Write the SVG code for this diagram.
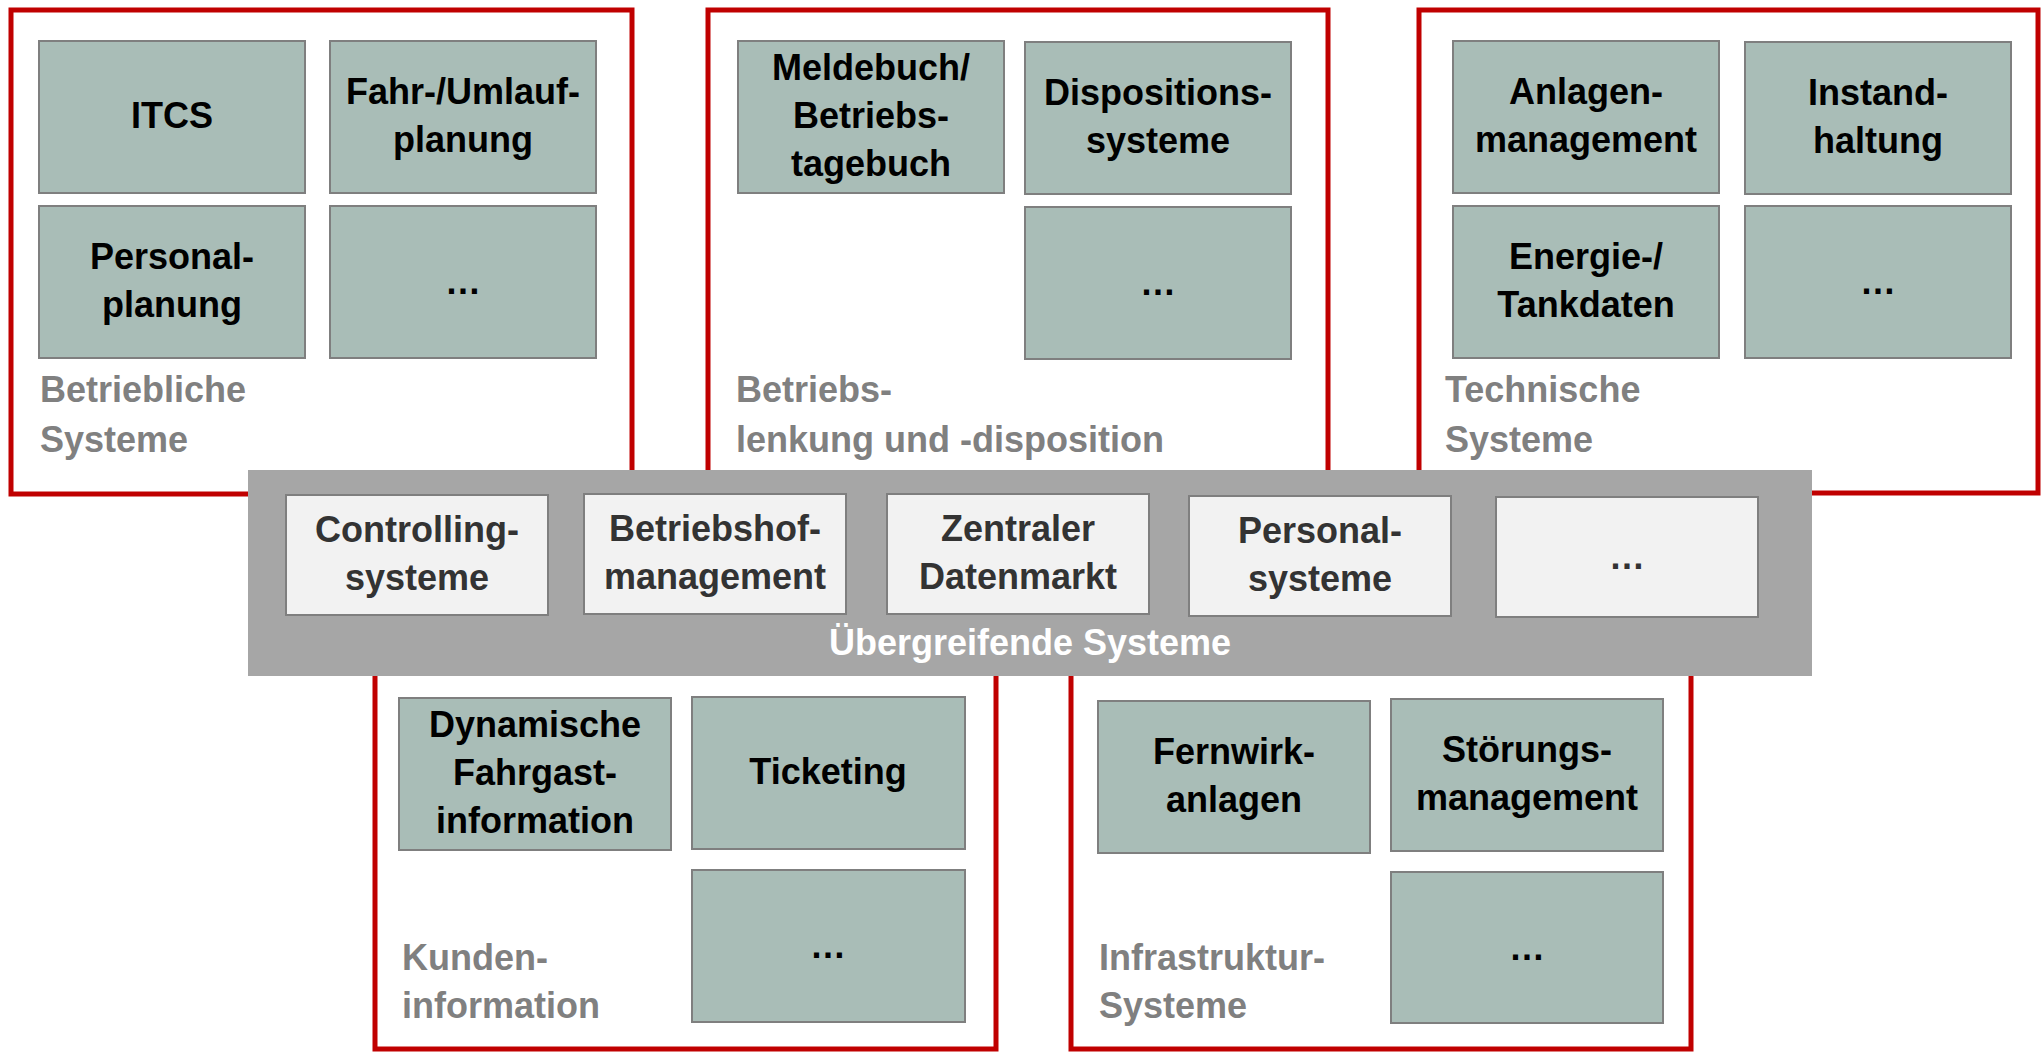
<svg xmlns="http://www.w3.org/2000/svg" width="2044" height="1052" viewBox="0 0 2044 1052">
<style>
.frame{fill:#FFFFFF;stroke:#C00000;stroke-width:5}
.box{fill:#A9BDB7;stroke:#7F7F7F;stroke-width:2}
.bbox{fill:#F2F2F2;stroke:#7F7F7F;stroke-width:2}
.band{fill:#A6A6A6}
text{font-family:"Liberation Sans",Arial,sans-serif;font-weight:bold;font-size:36px}
.t{fill:#000000;text-anchor:middle}
.bt{fill:#333333;text-anchor:middle}
.lbl{fill:#808080}
.bl{fill:#FFFFFF;text-anchor:middle}
</style>
<rect width="2044" height="1052" fill="#FFFFFF"/>
<g id="connectors"></g>

<g id="frame-betrieblich">
<rect class="frame" x="11" y="10" width="621" height="484"/>
<text class="lbl" x="40" y="402">Betriebliche</text>
<text class="lbl" x="40" y="452">Systeme</text>
</g>
<g id="frame-lenkung">
<rect class="frame" x="708" y="10" width="620" height="484"/>
<text class="lbl" x="736" y="402">Betriebs-</text>
<text class="lbl" x="736" y="452">lenkung und -disposition</text>
</g>
<g id="frame-technisch">
<rect class="frame" x="1419" y="10" width="619" height="483"/>
<text class="lbl" x="1445" y="402">Technische</text>
<text class="lbl" x="1445" y="452">Systeme</text>
</g>
<g id="frame-kunden">
<rect class="frame" x="375" y="650" width="621" height="399"/>
<text class="lbl" x="402" y="970">Kunden-</text>
<text class="lbl" x="402" y="1018">information</text>
</g>
<g id="frame-infra">
<rect class="frame" x="1071" y="650" width="620" height="399"/>
<text class="lbl" x="1099" y="970">Infrastruktur-</text>
<text class="lbl" x="1099" y="1018">Systeme</text>
</g>

<g id="itcs"><rect class="box" x="39" y="41" width="266" height="152"/><text class="t" x="172" y="128">ITCS</text></g>
<g id="fahr"><rect class="box" x="330" y="41" width="266" height="152"/><text class="t" x="463" y="104">Fahr-/Umlauf-</text><text class="t" x="463" y="152">planung</text></g>
<g id="personalplanung"><rect class="box" x="39" y="206" width="266" height="152"/><text class="t" x="172" y="269">Personal-</text><text class="t" x="172" y="317">planung</text></g>
<g id="more1"><rect class="box" x="330" y="206" width="266" height="152"/><text class="t" x="463" y="294">…</text></g>

<g id="meldebuch"><rect class="box" x="738" y="41" width="266" height="152"/><text class="t" x="871" y="80">Meldebuch/</text><text class="t" x="871" y="128">Betriebs-</text><text class="t" x="871" y="176">tagebuch</text></g>
<g id="disposition"><rect class="box" x="1025" y="42" width="266" height="152"/><text class="t" x="1158" y="105">Dispositions-</text><text class="t" x="1158" y="153">systeme</text></g>
<g id="more2"><rect class="box" x="1025" y="207" width="266" height="152"/><text class="t" x="1158" y="295">…</text></g>

<g id="anlagen"><rect class="box" x="1453" y="41" width="266" height="152"/><text class="t" x="1586" y="104">Anlagen-</text><text class="t" x="1586" y="152">management</text></g>
<g id="instand"><rect class="box" x="1745" y="42" width="266" height="152"/><text class="t" x="1878" y="105">Instand-</text><text class="t" x="1878" y="153">haltung</text></g>
<g id="energie"><rect class="box" x="1453" y="206" width="266" height="152"/><text class="t" x="1586" y="269">Energie-/</text><text class="t" x="1586" y="317">Tankdaten</text></g>
<g id="more3"><rect class="box" x="1745" y="206" width="266" height="152"/><text class="t" x="1878" y="294">…</text></g>

<g id="dfi"><rect class="box" x="399" y="698" width="272" height="152"/><text class="t" x="535" y="737">Dynamische</text><text class="t" x="535" y="785">Fahrgast-</text><text class="t" x="535" y="833">information</text></g>
<g id="ticketing"><rect class="box" x="692" y="697" width="273" height="152"/><text class="t" x="828" y="784">Ticketing</text></g>
<g id="more4"><rect class="box" x="692" y="870" width="273" height="152"/><text class="t" x="828" y="958">…</text></g>

<g id="fernwirk"><rect class="box" x="1098" y="701" width="272" height="152"/><text class="t" x="1234" y="764">Fernwirk-</text><text class="t" x="1234" y="812">anlagen</text></g>
<g id="stoerung"><rect class="box" x="1391" y="699" width="272" height="152"/><text class="t" x="1527" y="762">Störungs-</text><text class="t" x="1527" y="810">management</text></g>
<g id="more5"><rect class="box" x="1391" y="872" width="272" height="151"/><text class="t" x="1527" y="960">…</text></g>

<g id="uebergreifend">
<rect class="band" x="248" y="470" width="1564" height="206"/>
<text class="bl" x="1030" y="655">Übergreifende Systeme</text>
</g>
<g id="controlling"><rect class="bbox" x="286" y="495" width="262" height="120"/><text class="bt" x="417" y="542">Controlling-</text><text class="bt" x="417" y="590">systeme</text></g>
<g id="betriebshof"><rect class="bbox" x="584" y="494" width="262" height="120"/><text class="bt" x="715" y="541">Betriebshof-</text><text class="bt" x="715" y="589">management</text></g>
<g id="datenmarkt"><rect class="bbox" x="887" y="494" width="262" height="120"/><text class="bt" x="1018" y="541">Zentraler</text><text class="bt" x="1018" y="589">Datenmarkt</text></g>
<g id="personalsysteme"><rect class="bbox" x="1189" y="496" width="262" height="120"/><text class="bt" x="1320" y="543">Personal-</text><text class="bt" x="1320" y="591">systeme</text></g>
<g id="more6"><rect class="bbox" x="1496" y="497" width="262" height="120"/><text class="bt" x="1627" y="569">…</text></g>
</svg>
